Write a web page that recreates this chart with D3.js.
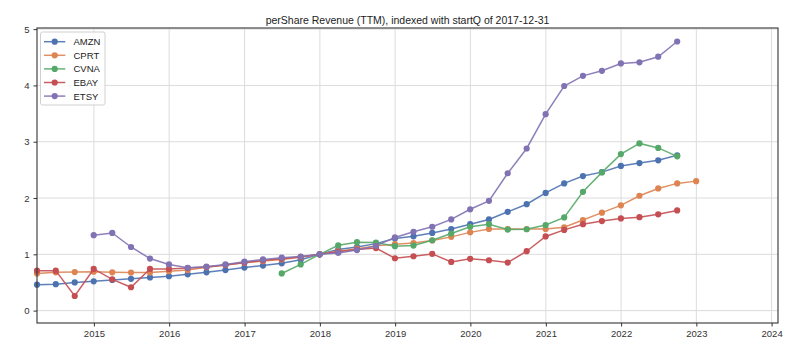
<!DOCTYPE html>
<html><head><meta charset="utf-8">
<script src="https://cdn.jsdelivr.net/npm/d3@7"></script>
<style>
body{margin:0;background:#fff;}
text{font-family:"Liberation Sans",Arial,sans-serif;}
</style></head><body>
<svg id="c" width="801" height="356"></svg>
<script>
const quarters = ["2014-03-31","2014-06-30","2014-09-30","2014-12-31","2015-03-31","2015-06-30","2015-09-30","2015-12-31",
"2016-03-31","2016-06-30","2016-09-30","2016-12-31","2017-03-31","2017-06-30","2017-09-30","2017-12-31",
"2018-03-31","2018-06-30","2018-09-30","2018-12-31","2019-03-31","2019-06-30","2019-09-30","2019-12-31",
"2020-03-31","2020-06-30","2020-09-30","2020-12-31","2021-03-31","2021-06-30","2021-09-30","2021-12-31",
"2022-03-31","2022-06-30","2022-09-30","2022-12-31"];
const tickYears = [2015,2016,2017,2018,2019,2020,2021,2022,2023,2024];
const yTicks = [0,1,2,3,4,5];
const names = ["AMZN","CPRT","CVNA","EBAY","ETSY"];
const colors = ["#4C72B0","#DD8452","#55A868","#C44E52","#8172B3"];
const AMZN = [0.46,0.47,0.50,0.52,0.545,0.565,0.59,0.61,0.645,0.68,0.72,0.765,0.80,0.84,0.905,1.0,
 1.085,1.13,1.19,1.28,1.32,1.38,1.45,1.535,1.62,1.755,1.89,2.09,2.26,2.39,2.46,2.57,2.62,2.67,2.76,null];
const CPRT = [0.66,0.68,0.685,0.69,0.68,0.675,0.675,0.70,0.72,0.77,0.81,0.85,0.88,0.91,0.95,1.0,
 1.055,1.10,1.15,1.18,1.20,1.245,1.31,1.39,1.45,1.45,1.45,1.45,1.48,1.61,1.74,1.87,2.04,2.17,2.26,2.30];
const CVNA = [null,null,null,null,null,null,null,null,null,null,null,null,null,0.66,0.82,1.0,
 1.16,1.215,1.21,1.145,1.155,1.25,1.37,1.49,1.535,1.44,1.445,1.52,1.655,2.11,2.455,2.78,2.97,2.89,2.74,null];
const EBAY = [0.71,0.71,0.26,0.74,0.555,0.415,0.74,0.74,0.755,0.775,0.81,0.855,0.89,0.92,0.955,1.0,
 1.045,1.085,1.11,0.93,0.966,1.007,0.865,0.92,0.895,0.854,1.055,1.317,1.434,1.535,1.59,1.637,1.66,1.71,1.78,null];
const ETSY = [null,null,null,1.34,1.38,1.13,0.925,0.82,0.76,0.78,0.82,0.87,0.91,0.94,0.96,1.0,
 1.025,1.075,1.15,1.30,1.40,1.49,1.62,1.80,1.95,2.44,2.88,3.49,3.99,4.17,4.26,4.39,4.41,4.51,4.78,null];
const seriesVals = [AMZN,CPRT,CVNA,EBAY,ETSY];
const title = "perShare Revenue (TTM), indexed with startQ of 2017-12-31";

const svg = d3.select("#c");
const L=37,R=778,T=28,B=323;
const parse = d3.utcParse("%Y-%m-%d");
const x = d3.scaleUtc().domain([parse("2014-03-31"), parse("2024-02-01")]).range([L,R]);
const y = d3.scaleLinear().domain([-0.22,5.02]).range([B,T]);
const tickDates = tickYears.map(yr=>new Date(Date.UTC(yr,0,1)));

// grid
const g = svg.append("g");
g.selectAll(".gx").data(tickDates).join("line")
 .attr("x1",d=>x(d)).attr("x2",d=>x(d)).attr("y1",T).attr("y2",B)
 .attr("stroke","#dcdcdc").attr("stroke-width",1);
g.selectAll(".gy").data(yTicks).join("line")
 .attr("x1",L).attr("x2",R).attr("y1",d=>y(d)).attr("y2",d=>y(d))
 .attr("stroke","#dcdcdc").attr("stroke-width",1);

// axes
const xAxis = d3.axisBottom(x).tickValues(tickDates).tickFormat(d3.utcFormat("%Y")).tickSize(3.5).tickPadding(4);
const yAxis = d3.axisLeft(y).tickValues(yTicks).tickFormat(d3.format("d")).tickSize(3.5).tickPadding(4);
const ax = svg.append("g").attr("transform",`translate(0,${B})`).call(xAxis);
const ay = svg.append("g").attr("transform",`translate(${L},0)`).call(yAxis);
[ax,ay].forEach(a=>{
  a.select(".domain").remove();
  a.selectAll("line").attr("stroke","#333");
  a.selectAll("text").attr("fill","#333").style("font-size","9.5px").style("font-family","'Liberation Sans',Arial,sans-serif");
});

// lines
const line = d3.line().defined(d=>d.v!=null).x(d=>x(d.t)).y(d=>y(d.v));
seriesVals.forEach((vals,k)=>{
  const pts = quarters.map((q,i)=>({t:parse(q),v:vals[i]}));
  const sg = svg.append("g");
  sg.append("path").datum(pts).attr("d",line).attr("fill","none")
    .attr("stroke",colors[k]).attr("stroke-width",1.5).attr("stroke-opacity",0.9);
  sg.selectAll("circle").data(pts.filter(d=>d.v!=null)).join("circle")
    .attr("cx",d=>x(d.t)).attr("cy",d=>y(d.v)).attr("r",3.1).attr("fill",colors[k]);
});

// frame
svg.append("rect").attr("x",L).attr("y",T).attr("width",R-L).attr("height",B-T)
 .attr("fill","none").attr("stroke","#333").attr("stroke-width",1.1);

// title
svg.append("text").attr("x",(L+R)/2).attr("y",24).attr("text-anchor","middle")
 .attr("fill","#222").style("font-size","10.5px").text(title);

// legend
const lg = svg.append("g");
lg.append("rect").attr("x",40.5).attr("y",32).attr("width",64.5).attr("height",73).attr("rx",2)
 .attr("fill","#fff").attr("fill-opacity",0.8).attr("stroke","#d0d0d0");
names.forEach((n,k)=>{
  const yy = 41.7 + k*13.6;
  lg.append("line").attr("x1",44).attr("x2",65.3).attr("y1",yy).attr("y2",yy).attr("stroke",colors[k]).attr("stroke-width",1.5).attr("stroke-opacity",0.9);
  lg.append("circle").attr("cx",54.7).attr("cy",yy).attr("r",3.1).attr("fill",colors[k]);
  lg.append("text").attr("x",73.5).attr("y",yy+3.4).attr("fill","#222").style("font-size","9.5px").text(n);
});
</script></body></html>
